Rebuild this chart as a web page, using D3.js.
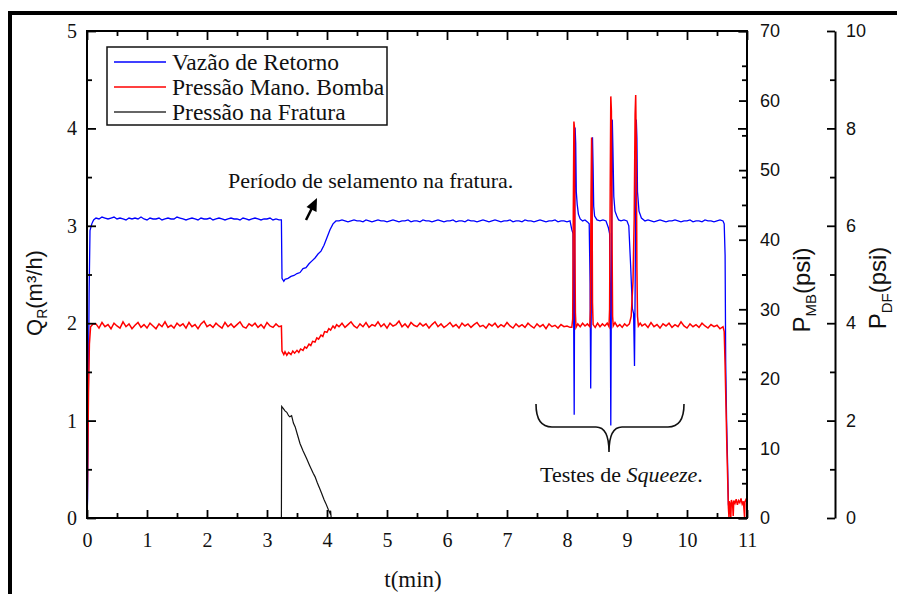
<!DOCTYPE html>
<html>
<head>
<meta charset="utf-8">
<script src="https://cdn.jsdelivr.net/npm/d3@7"></script>
<style>
  body { margin: 0; background: #fff; }
  .serif { font-family: "Liberation Serif", "Times New Roman", serif; }
  .sans { font-family: "Liberation Sans", Arial, sans-serif; }
</style>
</head>
<body>
<div id="chart"></div>
<script>
// passo de amostragem dos trechos estaveis (min)
const passo = 0.05;

const xTicks = [0, 1, 2, 3, 4, 5, 6, 7, 8, 9, 10, 11];
const qTicks = [0, 1, 2, 3, 4, 5];
const mbTicks = [0, 10, 20, 30, 40, 50, 60, 70];
const dfTicks = [0, 2, 4, 6, 8, 10];

const legendLabels = ['Vazão de Retorno', 'Pressão Mano. Bomba', 'Pressão na Fratura'];

// Vazao de retorno Q_R (m3/h)
const qInicio = [[0, 0], [0.01, 0.2], [0.02, 1.1], [0.035, 2.3], [0.05, 2.95], [0.08, 3.02], [0.11, 3.06]];
const qBase1 = [
  3.08, 3.07, 3.09, 3.08, 3.07, 3.08, 3.09, 3.07, 3.08, 3.07,
  3.06, 3.08, 3.07, 3.08, 3.07, 3.09, 3.07, 3.06, 3.08, 3.07,
  3.07, 3.08, 3.06, 3.07, 3.08, 3.07, 3.07, 3.09, 3.08, 3.07,
  3.06, 3.07, 3.08, 3.07, 3.06, 3.08, 3.07, 3.07, 3.08, 3.06,
  3.07, 3.08, 3.07, 3.06, 3.07, 3.08, 3.07, 3.07, 3.06, 3.08,
  3.07, 3.06, 3.07, 3.08, 3.07, 3.06, 3.07, 3.07, 3.08, 3.06,
  3.07, 3.06];
const qSelamento = [[3.24, 3.06], [3.25, 2.46], [3.28, 2.43], [3.3, 2.45], [3.35, 2.46], [3.4, 2.48],
  [3.45, 2.49], [3.5, 2.51], [3.55, 2.52], [3.6, 2.56], [3.65, 2.57], [3.7, 2.61], [3.75, 2.64],
  [3.8, 2.67], [3.85, 2.71], [3.9, 2.74], [3.95, 2.8], [4.0, 2.88], [4.05, 2.96], [4.1, 3.02], [4.15, 3.05]];
const qBase2 = [
  3.05, 3.06, 3.05, 3.04, 3.05, 3.06, 3.05, 3.05, 3.04, 3.06,
  3.05, 3.04, 3.05, 3.06, 3.05, 3.05, 3.04, 3.05, 3.06, 3.05,
  3.04, 3.05, 3.05, 3.06, 3.04, 3.05, 3.05, 3.04, 3.06, 3.05,
  3.05, 3.04, 3.05, 3.06, 3.05, 3.04, 3.05, 3.05, 3.06, 3.04,
  3.05, 3.05, 3.04, 3.06, 3.05, 3.05, 3.04, 3.05, 3.06, 3.05,
  3.04, 3.05, 3.06, 3.05, 3.04, 3.05, 3.05, 3.06, 3.04, 3.05,
  3.05, 3.04, 3.06, 3.05, 3.05, 3.04, 3.05, 3.06, 3.05, 3.04,
  3.05, 3.05, 3.06, 3.04, 3.05, 3.05, 3.04, 3.05];
const qSqueeze = [[8.08, 2.96], [8.1, 2.92], [8.11, 2.2], [8.12, 1.06], [8.125, 2.1], [8.135, 4.01],
  [8.145, 3.85], [8.155, 3.35], [8.17, 3.22], [8.19, 3.12], [8.22, 3.07], [8.26, 3.05], [8.3, 3.06],
  [8.34, 3.04], [8.37, 3.02], [8.385, 2.4], [8.395, 1.33], [8.405, 2.2], [8.425, 3.91], [8.435, 3.6],
  [8.445, 3.2], [8.46, 3.1], [8.5, 3.06], [8.55, 3.05], [8.6, 3.06], [8.65, 3.05], [8.69, 2.98],
  [8.71, 2.92], [8.72, 2.3], [8.73, 0.95], [8.74, 2.4], [8.755, 4.09], [8.765, 3.8], [8.78, 3.3],
  [8.8, 3.15], [8.83, 3.1], [8.86, 3.06], [8.9, 3.05], [8.95, 3.06], [9.0, 3.05], [9.03, 3.0],
  [9.06, 2.6], [9.09, 2.15], [9.11, 2.1], [9.125, 1.56], [9.135, 2.3], [9.155, 4.09], [9.165, 3.9],
  [9.175, 3.35], [9.2, 3.15], [9.24, 3.08]];
const qBase3 = [
  3.05, 3.06, 3.05, 3.04, 3.05, 3.06, 3.05, 3.04, 3.05, 3.05,
  3.06, 3.05, 3.04, 3.05, 3.05, 3.06, 3.04, 3.05, 3.05, 3.04,
  3.06, 3.05, 3.05, 3.04, 3.05, 3.06, 3.05];
const qFim = [[10.62, 3.02], [10.635, 2.7], [10.645, 1.6], [10.66, 1.0], [10.675, 0.6], [10.69, 0.14], [10.7, 0.1]];

// Pressao manometrica da bomba P_MB (psi)
const pInicio = [[0, 0], [0.01, 6], [0.025, 18], [0.04, 25], [0.06, 27.5], [0.1, 27.9]];
const pBase1 = [
  27.9, 27.3, 28.1, 27.5, 27.8, 27.2, 28.0, 27.6, 27.3, 28.2,
  27.5, 27.9, 27.2, 27.7, 28.1, 27.4, 27.8, 27.3, 28.0, 27.6,
  27.2, 27.9, 27.5, 28.2, 27.4, 27.7, 27.3, 28.0, 27.6, 27.9,
  27.3, 28.1, 27.5, 27.8, 27.2, 27.9, 28.3, 27.5, 27.8, 27.4,
  28.0, 27.6, 27.3, 28.1, 27.5, 27.9, 27.4, 27.8, 28.2, 27.5,
  27.3, 27.9, 27.6, 28.0, 27.4, 27.8, 27.3, 28.1, 27.6, 27.4,
  27.9, 27.5];
const pSelamento = [[3.24, 27.6], [3.25, 24.0], [3.28, 23.5], [3.3, 23.9], [3.33, 23.4], [3.36, 23.8],
  [3.4, 23.5], [3.43, 24.0], [3.46, 23.7], [3.5, 24.1], [3.53, 23.8], [3.56, 24.3], [3.6, 24.1],
  [3.63, 24.6], [3.66, 24.4], [3.7, 25.0], [3.73, 24.8], [3.76, 25.4], [3.8, 25.3], [3.83, 25.9],
  [3.86, 25.7], [3.9, 26.3], [3.93, 26.1], [3.96, 26.8], [4.0, 26.7], [4.03, 27.2], [4.06, 27.0],
  [4.1, 27.6], [4.13, 27.3], [4.16, 27.8]];
const pBase2 = [
  27.5, 28.0, 27.4, 27.8, 28.2, 27.6, 27.3, 27.9, 27.5, 28.1,
  27.4, 27.8, 27.6, 28.2, 27.5, 27.9, 27.3, 28.0, 27.6, 27.8,
  28.3, 27.5, 27.9, 27.4, 28.1, 27.7, 27.5, 28.0, 27.6, 27.9,
  27.3, 27.8, 28.2, 27.5, 27.9, 27.4, 27.7, 28.1, 27.5, 27.8,
  27.3, 28.0, 27.6, 27.9, 27.4, 27.8, 28.1, 27.5, 27.7, 27.3,
  27.9, 27.6, 28.0, 27.4, 27.8, 27.5, 28.1, 27.6, 27.3, 27.9,
  27.5, 27.8, 27.4, 28.0, 27.6, 27.3, 27.9, 27.5, 27.8, 27.2,
  27.9, 27.5, 27.7, 27.3, 27.8, 27.5, 27.6, 27.4];
const pSqueeze = [[8.08, 27.4], [8.095, 28.6], [8.105, 44], [8.115, 57.0], [8.125, 56.0], [8.13, 41],
  [8.14, 29.5], [8.15, 27.4], [8.18, 27.9], [8.22, 27.5], [8.26, 28.0], [8.3, 27.6], [8.34, 27.9],
  [8.38, 27.5], [8.39, 30], [8.4, 46], [8.41, 54.7], [8.415, 52.5], [8.425, 31], [8.435, 27.8],
  [8.47, 27.4], [8.51, 28.0], [8.55, 27.5], [8.59, 27.9], [8.63, 27.6], [8.67, 28.0], [8.7, 27.5],
  [8.71, 30], [8.72, 47], [8.73, 60.6], [8.74, 58.5], [8.75, 41], [8.76, 29], [8.77, 27.6],
  [8.8, 28.1], [8.84, 27.5], [8.88, 27.8], [8.92, 27.4], [8.96, 27.9], [9.0, 27.6], [9.04, 27.9],
  [9.07, 29], [9.1, 34], [9.12, 43], [9.135, 58], [9.145, 60.8], [9.155, 53], [9.165, 36],
  [9.175, 29], [9.19, 27.6], [9.22, 28.0]];
const pBase3 = [
  27.6, 27.9, 27.4, 28.1, 27.5, 27.8, 27.3, 27.9, 27.6, 28.0,
  27.4, 27.8, 27.5, 28.2, 27.6, 27.3, 27.9, 27.5, 27.8, 27.4,
  28.0, 27.6, 27.3, 27.8, 27.5, 27.7, 27.2, 27.5];
const pFim = [[10.62, 26.8], [10.635, 22], [10.65, 16], [10.665, 10], [10.68, 5], [10.69, 1.5],
  [10.7, 0], [10.705, 2.4], [10.72, 1.9], [10.73, 0], [10.74, 2.6], [10.76, 2.0], [10.77, 0.3],
  [10.78, 2.5], [10.8, 2.1], [10.82, 2.7], [10.84, 1.9], [10.86, 2.5], [10.88, 2.2], [10.9, 2.8],
  [10.92, 2.0], [10.94, 2.4], [10.96, 0], [10.965, 2.3], [10.98, 2.6], [11.0, 2.2]];

// Pressao na fratura P_DF (psi)
const pFratura = [[0, 0], [0.003, 2.27], [0.008, 0], [3.24, 0], [3.245, 2.29], [3.27, 2.25],
  [3.3, 2.2], [3.33, 2.17], [3.36, 2.1], [3.38, 2.08], [3.41, 2.1], [3.44, 1.95], [3.47, 1.87],
  [3.51, 1.7], [3.55, 1.53], [3.6, 1.38], [3.66, 1.22], [3.71, 1.08], [3.77, 0.92], [3.8, 0.85],
  [3.84, 0.72], [3.88, 0.6], [3.91, 0.51], [3.95, 0.38], [3.98, 0.3], [4.02, 0.18], [4.05, 0.1],
  [4.06, 0.15], [4.07, 0], [11, 0]];

const trecho = (t0, vals) => vals.map((v, i) => [t0 + i * passo, v]);

const vazao = [].concat(qInicio, trecho(0.15, qBase1), qSelamento, trecho(4.2, qBase2),
  qSqueeze, trecho(9.3, qBase3), qFim);
const pressaoMB = [].concat(pInicio, trecho(0.15, pBase1), pSelamento, trecho(4.2, pBase2),
  pSqueeze, trecho(9.25, pBase3), pFim);

const W = 897, H = 594;
const plotL = 87, plotR = 747, plotT = 31, plotB = 518;

const svg = d3.select('#chart').append('svg')
  .attr('width', W)
  .attr('height', H);

// moldura externa
svg.append('rect')
  .attr('x', 10).attr('y', 13)
  .attr('width', 920).attr('height', 620)
  .attr('fill', 'none')
  .attr('stroke', '#000')
  .attr('stroke-width', 4);

const x = d3.scaleLinear().domain([0, 11]).range([plotL, plotR]);
const yQ = d3.scaleLinear().domain([0, 5]).range([plotB, plotT]);
const yMB = d3.scaleLinear().domain([0, 70]).range([plotB, plotT]);
const yDF = d3.scaleLinear().domain([0, 10]).range([plotB, plotT]);

const halves = d3.range(0.5, 11, 1);

// series
const lineQ = d3.line().x(d => x(d[0])).y(d => yQ(d[1]));
const lineMB = d3.line().x(d => x(d[0])).y(d => yMB(d[1]));
const lineDF = d3.line().x(d => x(d[0])).y(d => yDF(d[1]));

svg.append('path')
  .datum(vazao)
  .attr('d', lineQ)
  .attr('fill', 'none')
  .attr('stroke', '#0000ff')
  .attr('stroke-width', 1.3);

svg.append('path')
  .datum(pressaoMB)
  .attr('d', lineMB)
  .attr('fill', 'none')
  .attr('stroke', '#ff0000')
  .attr('stroke-width', 1.5);

svg.append('path')
  .datum(pFratura)
  .attr('d', lineDF)
  .attr('fill', 'none')
  .attr('stroke', '#111')
  .attr('stroke-width', 1.2);

// eixos
function styleAxis(g) {
  g.select('.domain').remove();
  g.selectAll('.tick line').attr('stroke', '#000').attr('stroke-width', 1.8);
}

svg.append('g')
  .attr('transform', `translate(0, ${plotB})`)
  .attr('class', 'serif')
  .call(d3.axisBottom(x).tickValues(xTicks).tickSize(-8).tickPadding(15).tickFormat(d3.format('d')))
  .call(styleAxis)
  .selectAll('text').attr('font-size', 20).attr('fill', '#111');

svg.append('g')
  .attr('transform', `translate(0, ${plotB})`)
  .call(d3.axisBottom(x).tickValues(halves).tickSize(-5).tickFormat(''))
  .call(styleAxis);

svg.append('g')
  .attr('transform', `translate(0, ${plotT})`)
  .call(d3.axisTop(x).tickValues(xTicks).tickSize(-9).tickFormat(''))
  .call(styleAxis);

svg.append('g')
  .attr('transform', `translate(0, ${plotT})`)
  .call(d3.axisTop(x).tickValues(halves).tickSize(-5).tickFormat(''))
  .call(styleAxis);

svg.append('g')
  .attr('transform', `translate(${plotL}, 0)`)
  .attr('class', 'serif')
  .call(d3.axisLeft(yQ).tickValues(qTicks).tickSize(-9).tickPadding(10).tickFormat(d3.format('d')))
  .call(styleAxis)
  .selectAll('text').attr('font-size', 20).attr('fill', '#111');

svg.append('g')
  .attr('transform', `translate(${plotL}, 0)`)
  .call(d3.axisLeft(yQ).tickValues(d3.range(0.5, 5, 1)).tickSize(-5).tickFormat(''))
  .call(styleAxis);

// lado direito: ticks de Q espelhados + eixo P_MB
svg.append('g')
  .attr('transform', `translate(${plotR}, 0)`)
  .call(d3.axisRight(yQ).tickValues(qTicks).tickSize(-9).tickFormat(''))
  .call(styleAxis);

svg.append('g')
  .attr('transform', `translate(${plotR}, 0)`)
  .call(d3.axisRight(yQ).tickValues(d3.range(0.5, 5, 1)).tickSize(-5).tickFormat(''))
  .call(styleAxis);

svg.append('g')
  .attr('transform', `translate(${plotR}, 0)`)
  .attr('class', 'sans')
  .call(d3.axisRight(yMB).tickValues(mbTicks).tickSize(-8).tickPadding(13))
  .call(styleAxis)
  .selectAll('text').attr('font-size', 18).attr('fill', '#111');

svg.append('g')
  .attr('transform', `translate(${plotR}, 0)`)
  .call(d3.axisRight(yMB).tickValues(d3.range(5, 70, 10)).tickSize(-5).tickFormat(''))
  .call(styleAxis);

// caixa do grafico
svg.append('rect')
  .attr('x', plotL).attr('y', plotT)
  .attr('width', plotR - plotL).attr('height', plotB - plotT)
  .attr('fill', 'none')
  .attr('stroke', '#000')
  .attr('stroke-width', 2);

// eixo P_DF
const dfAxis = svg.append('g')
  .attr('transform', 'translate(835, 0)')
  .attr('class', 'sans')
  .call(d3.axisRight(yDF).tickValues(dfTicks).tickSize(-8).tickSizeOuter(0).tickPadding(11));
dfAxis.select('.domain').attr('stroke-width', 2);
dfAxis.selectAll('.tick line').attr('stroke-width', 1.8);
dfAxis.selectAll('text').attr('font-size', 18).attr('fill', '#111');

svg.append('g')
  .attr('transform', 'translate(835, 0)')
  .call(d3.axisRight(yDF).tickValues(d3.range(1, 10, 2)).tickSize(-5).tickFormat(''))
  .call(styleAxis);

// titulos dos eixos
const qLabel = svg.append('text')
  .attr('class', 'sans')
  .attr('transform', 'translate(42, 293) rotate(-90)')
  .attr('text-anchor', 'middle')
  .attr('font-size', 22)
  .attr('fill', '#111');
qLabel.append('tspan').text('Q');
qLabel.append('tspan').attr('font-size', 14).attr('dy', 5).text('R');
qLabel.append('tspan').attr('dy', -5).text('(m³/h)');

const mbLabel = svg.append('text')
  .attr('class', 'sans')
  .attr('transform', 'translate(810, 290) rotate(-90)')
  .attr('text-anchor', 'middle')
  .attr('font-size', 24)
  .attr('fill', '#111');
mbLabel.append('tspan').text('P');
mbLabel.append('tspan').attr('font-size', 15).attr('dy', 6).text('MB');
mbLabel.append('tspan').attr('dy', -6).text('(psi)');

const dfLabel = svg.append('text')
  .attr('class', 'sans')
  .attr('transform', 'translate(886, 288) rotate(-90)')
  .attr('text-anchor', 'middle')
  .attr('font-size', 24)
  .attr('fill', '#111');
dfLabel.append('tspan').text('P');
dfLabel.append('tspan').attr('font-size', 15).attr('dy', 6).text('DF');
dfLabel.append('tspan').attr('dy', -6).text('(psi)');

svg.append('text')
  .attr('class', 'serif')
  .attr('x', 413).attr('y', 587)
  .attr('text-anchor', 'middle')
  .attr('font-size', 23)
  .attr('fill', '#111')
  .text('t(min)');

// legenda
svg.append('rect')
  .attr('x', 107).attr('y', 47)
  .attr('width', 280).attr('height', 78)
  .attr('fill', '#fff')
  .attr('stroke', '#111')
  .attr('stroke-width', 1.5);

const legendColors = ['#0000ff', '#ff0000', '#333'];
const legendRow = svg.selectAll('.legend-row')
  .data(legendLabels)
  .enter()
  .append('g')
    .attr('class', 'legend-row')
    .attr('transform', (d, i) => `translate(114, ${62 + i * 25})`);

legendRow.append('line')
  .attr('x1', 0).attr('x2', 52)
  .attr('stroke', (d, i) => legendColors[i])
  .attr('stroke-width', 1.5);

legendRow.append('text')
  .attr('class', 'serif')
  .attr('x', 58)
  .attr('y', 7.5)
  .attr('font-size', 23.5)
  .attr('fill', '#111')
  .text(d => d);

// anotacoes
svg.append('text')
  .attr('class', 'serif')
  .attr('x', 228).attr('y', 188)
  .attr('font-size', 22)
  .attr('fill', '#111')
  .text('Período de selamento na fratura.');

svg.append('line')
  .attr('x1', 306).attr('y1', 220)
  .attr('x2', 312).attr('y2', 208)
  .attr('stroke', '#000')
  .attr('stroke-width', 2.5);
svg.append('path')
  .attr('d', 'M317,198 L316.5,212 L306.5,207 Z')
  .attr('fill', '#000');

svg.append('path')
  .attr('d', 'M536,404 Q536,427 552,427 L596,427 Q609,427 609,452 Q609,427 622,427 L668,427 Q684,427 684,404')
  .attr('fill', 'none')
  .attr('stroke', '#111')
  .attr('stroke-width', 1.6);

const sq = svg.append('text')
  .attr('class', 'serif')
  .attr('x', 540).attr('y', 482)
  .attr('font-size', 22)
  .attr('fill', '#111');
sq.append('tspan').text('Testes de ');
sq.append('tspan').attr('font-style', 'italic').text('Squeeze');
sq.append('tspan').text('.');
</script>
</body>
</html>
